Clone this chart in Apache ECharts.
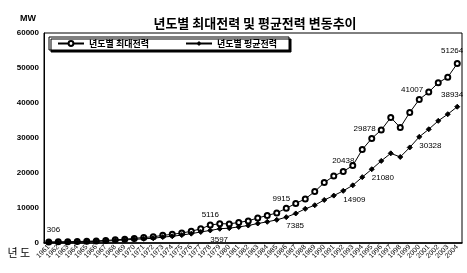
<!DOCTYPE html>
<html>
<head>
<meta charset="utf-8">
<script src="https://cdn.jsdelivr.net/npm/echarts@6/dist/echarts.min.js"></script>
<style>
  html, body { margin: 0; padding: 0; background: #fff; }
  #chart { width: 467px; height: 273px; }
</style>
</head>
<body>
<div id="chart"></div>
<script>
// 년도 (1961 ~ 2004)
var years = ['1961','1962','1963','1964','1965','1966','1967','1968','1969','1970',
  '1971','1972','1973','1974','1975','1976','1977','1978','1979','1980',
  '1981','1982','1983','1984','1985','1986','1987','1988','1989','1990',
  '1991','1992','1993','1994','1995','1996','1997','1998','1999','2000',
  '2001','2002','2003','2004'];

// 년도별 최대전력 (MW)
var maxLoad = [306, 334, 375, 420, 500, 590, 750, 900, 1090, 1320,
  1580, 1770, 2190, 2470, 2860, 3340, 4070, 5116, 5520, 5460,
  5880, 6320, 7160, 7860, 8600, 9915, 11300, 12600, 14700, 17252,
  19124, 20438, 22112, 26696, 29878, 32282, 35851, 32996, 37293, 41007,
  43125, 45773, 47385, 51264];

// 년도별 평균전력 (MW)
var avgLoad = [200, 230, 260, 290, 370, 450, 560, 700, 880, 1050,
  1200, 1350, 1690, 1920, 2260, 2670, 3150, 3597, 4060, 4250,
  4590, 5000, 5570, 6050, 6620, 7385, 8440, 9760, 10790, 12300,
  13540, 14909, 16480, 18820, 21080, 23460, 25620, 24580, 27300, 30328,
  32500, 34900, 36800, 38934];

// 값이 표시된 년도
var maxLabelYears = ['1961', '1978', '1986', '1992', '1995', '2000', '2004'];
var avgLabelYears = ['1978', '1986', '1992', '1995', '2000', '2004'];

var yTicks = [0, 10000, 20000, 30000, 40000, 50000, 60000];

var labelFont = { fontFamily: 'Liberation Sans', fontSize: 8, color: '#000' };

function withLabels(values, labelYears, labelFor) {
  return values.map(function (v, i) {
    if (labelYears.indexOf(years[i]) < 0) return v;
    return { value: v, label: Object.assign({ show: true }, labelFont, labelFor(years[i])) };
  });
}

var maxData = withLabels(maxLoad, maxLabelYears, function (y) {
  if (y === '2004') return { position: 'top', align: 'right', offset: [6, 0] };
  if (y === '1961') return { position: 'top', align: 'left', offset: [-2, 0] };
  if (y === '1986' || y === '1995' || y === '2000') return { position: 'top', align: 'right', offset: [4, 0], distance: 2 };
  return { position: 'top', distance: 3 };
});
var avgData = withLabels(avgLoad, avgLabelYears, function (y) {
  if (y === '2004') return { position: 'top', align: 'right', offset: [6, 0] };
  return { position: 'bottom', align: 'left', distance: 2 };
});

var chart = echarts.init(document.getElementById('chart'), null, { renderer: 'canvas' });

chart.setOption({
  animation: false,
  backgroundColor: '#fff',
  textStyle: { fontFamily: 'Noto Sans CJK KR' },
  title: {
    text: '년도별 최대전력 및 평균전력 변동추이',
    left: 250,
    textAlign: 'center',
    top: 12,
    textStyle: { fontFamily: 'Noto Sans CJK KR', fontSize: 13, fontWeight: 'bold', color: '#000' }
  },
  legend: {
    left: 49,
    top: 37,
    itemWidth: 26,
    itemHeight: 6,
    itemGap: 36,
    padding: [2, 12, 2, 8],
    backgroundColor: '#fff',
    borderColor: '#000',
    borderWidth: 1,
    borderRadius: 0,
    shadowColor: '#000',
    shadowBlur: 0,
    shadowOffsetX: 2,
    shadowOffsetY: 2,
    textStyle: { fontFamily: 'Noto Sans CJK KR', fontSize: 9, fontWeight: 'bold', color: '#000' },
    data: ['년도별 최대전력', '년도별 평균전력']
  },
  grid: {
    left: 44,
    right: 5,
    top: 33,
    bottom: 30,
    show: true,
    borderColor: '#000',
    borderWidth: 1
  },
  xAxis: {
    type: 'category',
    data: years,
    boundaryGap: true,
    name: '년 도',
    nameLocation: 'start',
    nameGap: 4,
    nameTextStyle: { fontFamily: 'Noto Sans CJK KR', fontSize: 11, color: '#000', verticalAlign: 'top', padding: [4, 0, 0, 0] },
    axisLine: { lineStyle: { color: '#000', width: 1.5 } },
    axisTick: { show: false },
    axisLabel: { interval: 0, rotate: 45, fontSize: 7, color: '#000', margin: 3, fontFamily: 'Liberation Sans' },
    splitLine: { show: false }
  },
  yAxis: {
    type: 'value',
    min: yTicks[0],
    max: yTicks[yTicks.length - 1],
    interval: 10000,
    name: 'MW',
    nameLocation: 'end',
    nameGap: 10,
    nameTextStyle: { fontFamily: 'Liberation Sans', fontSize: 9, fontWeight: 'bold', color: '#000', align: 'right', padding: [0, 8, 0, 0] },
    axisLine: { show: true, lineStyle: { color: '#000' } },
    axisTick: { show: false },
    axisLabel: {
      fontFamily: 'Liberation Sans', fontSize: 8, fontWeight: 'bold', color: '#000', margin: 5,
      formatter: function (v) { return String(v); }
    },
    splitLine: { show: false }
  },
  series: [
    {
      name: '년도별 최대전력',
      type: 'line',
      data: maxData,
      symbol: 'emptyCircle',
      symbolSize: 5,
      lineStyle: { color: '#000', width: 1 },
      itemStyle: { color: '#000', borderColor: '#000', borderWidth: 1 }
    },
    {
      name: '년도별 평균전력',
      type: 'line',
      data: avgData,
      symbol: 'diamond',
      symbolSize: 5,
      lineStyle: { color: '#000', width: 1 },
      itemStyle: { color: '#000', borderColor: '#000' }
    }
  ]
});
</script>
</body>
</html>
